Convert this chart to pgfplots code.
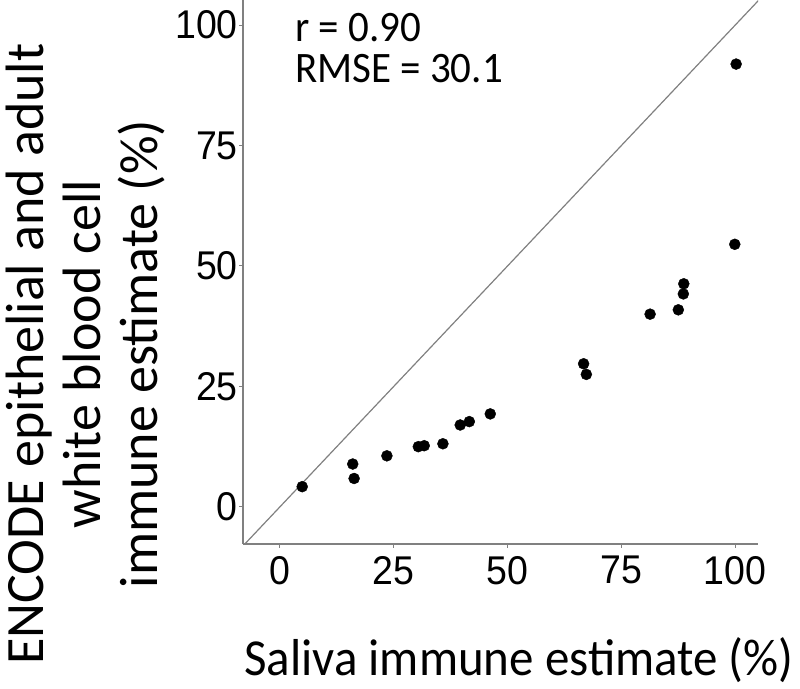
\documentclass[border=0pt]{standalone}
\usepackage{pgfplots}
\pgfplotsset{compat=1.18}
\usepackage{fontspec}
\setmainfont{Carlito}
\newfontfamily\arialfont{Liberation Sans}
\begin{document}
\begin{tikzpicture}
\path[use as bounding box] (0,0) rectangle (800pt,688pt);
\begin{axis}[
  at={(243pt,144pt)}, anchor=south west,
  scale only axis, width=515pt, height=544pt,
  xmin=-8.1, xmax=105, ymin=-7.7, ymax=105.2,
  axis x line=bottom, axis y line=left,
  axis line style={-, draw=black!50, line width=1.4pt},
  xtick={0,25,50,75,100}, ytick={0,25,50,75,100},
  tick align=outside, major tick length=4pt,
  tick style={draw=black!50, line width=1pt},
  /pgf/number format/assume math mode=true,
  ticklabel style={font=\arialfont\fontsize{37.5}{40}\selectfont, text=black},
  xticklabel={\scalebox{1}[1.07]{\pgfmathprintnumber{\tick}}},
  yticklabel={\scalebox{1}[1.07]{\pgfmathprintnumber{\tick}}},
  xticklabel style={inner sep=0pt, yshift=-8pt},
  yticklabel style={inner sep=0pt, xshift=-1pt},
]
\addplot[draw=black!50, line width=1.2pt] coordinates {(-8.1,-8.1) (106,106)};
\addplot[only marks, mark=*, mark size=5.5pt, mark options={fill=black, draw=black}] coordinates {
(4.9,4.2) (16.0,8.9) (16.3,5.9) (23.5,10.6) (30.4,12.5) (31.7,12.7) (35.8,13.1)
(39.6,17.0) (41.6,17.7) (46.2,19.3) (66.7,29.7) (67.3,27.5) (81.3,40.0)
(87.5,40.9) (88.6,44.2) (88.7,46.3) (99.9,54.5) (100.2,91.9)
};
\node[anchor=base west, inner sep=0pt, font=\fontsize{41}{44}\selectfont] at (axis cs:3.3,96.5) {\scalebox{1}[1.06]{r = 0.90}};
\node[anchor=base west, inner sep=0pt, font=\fontsize{41}{44}\selectfont] at (axis cs:3.3,88.0) {\scalebox{1}[1.06]{RMSE = 30.1}};
\end{axis}
\node[anchor=base, inner sep=0pt, font=\fontsize{49}{58}\selectfont] at (519pt,13pt) {\scalebox{1}[1.06]{Saliva immune estimate (\%)}};
\node[rotate=90, align=center, inner sep=0pt, font=\fontsize{54}{57}\selectfont] at (85pt,334pt) {ENCODE epithelial and adult\\white blood cell\\immune estimate (\%)};
\end{tikzpicture}
\end{document}
